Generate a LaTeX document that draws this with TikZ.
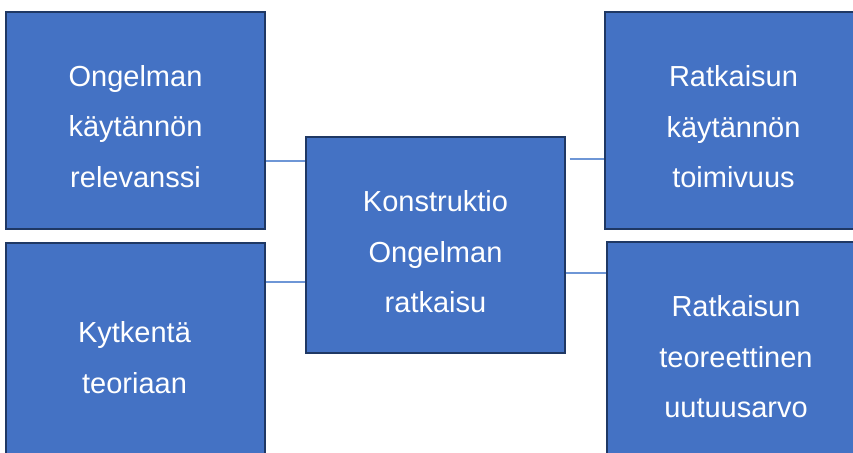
\documentclass[tikz,border=0pt]{standalone}
\usepackage{fontspec}
\setmainfont{Liberation Sans}
\definecolor{boxfill}{HTML}{4472C4}
\definecolor{boxedge}{HTML}{1F3864}
\definecolor{linkline}{HTML}{6E96D6}
\begin{document}
\begin{tikzpicture}[x=1pt,y=-1pt,
  box/.style={draw=boxedge,fill=boxfill,line width=2pt,rectangle,
    minimum width=259pt,minimum height=216.5pt,inner sep=0pt},
  label/.style={anchor=north,inner sep=0pt,align=center,text=white,
    font=\fontsize{29}{50.5}\selectfont},
  conn/.style={draw=linkline,line width=1.9pt}]
\useasboundingbox (0,0) rectangle (853,452);

% boxes
\node[box] (tl) at (135.5,120.25) {};
\node[box] (bl) at (135.5,350.75) {};
\node[box] (c)  at (435.5,245) {};
\node[box] (tr) at (734.5,120.25) {};
\node[box] (br) at (736.5,350.25) {};

% texts
\node[label] (tltext) at (135.5,65) {Ongelman\\käytännön\\relevanssi};
\node[label] (bltext) at (134.5,321.7) {Kytkentä\\teoriaan};
\node[label] (ctext)  at (435.5,190.7) {Konstruktio\\Ongelman\\ratkaisu};
\node[label] (trtext) at (733.5,65.7) {Ratkaisun\\käytännön\\toimivuus};
\node[label] (brtext) at (736,295.7) {Ratkaisun\\teoreettinen\\uutuusarvo};

% connectors
\draw[conn] ([yshift=-40.45pt]tl.east) -- ([yshift=-40.45pt]tl.east -| c.west);
\draw[conn] ([yshift=68.75pt]bl.east) -- ([yshift=68.75pt]bl.east -| c.west);
\draw[conn] ([xshift=3.5pt,yshift=-38.45pt]tr.west -| c.east) -- ([yshift=-38.45pt]tr.west);
\draw[conn] ([yshift=76.95pt]br.west -| c.east) -- ([yshift=76.95pt]br.west);
\end{tikzpicture}
\end{document}
